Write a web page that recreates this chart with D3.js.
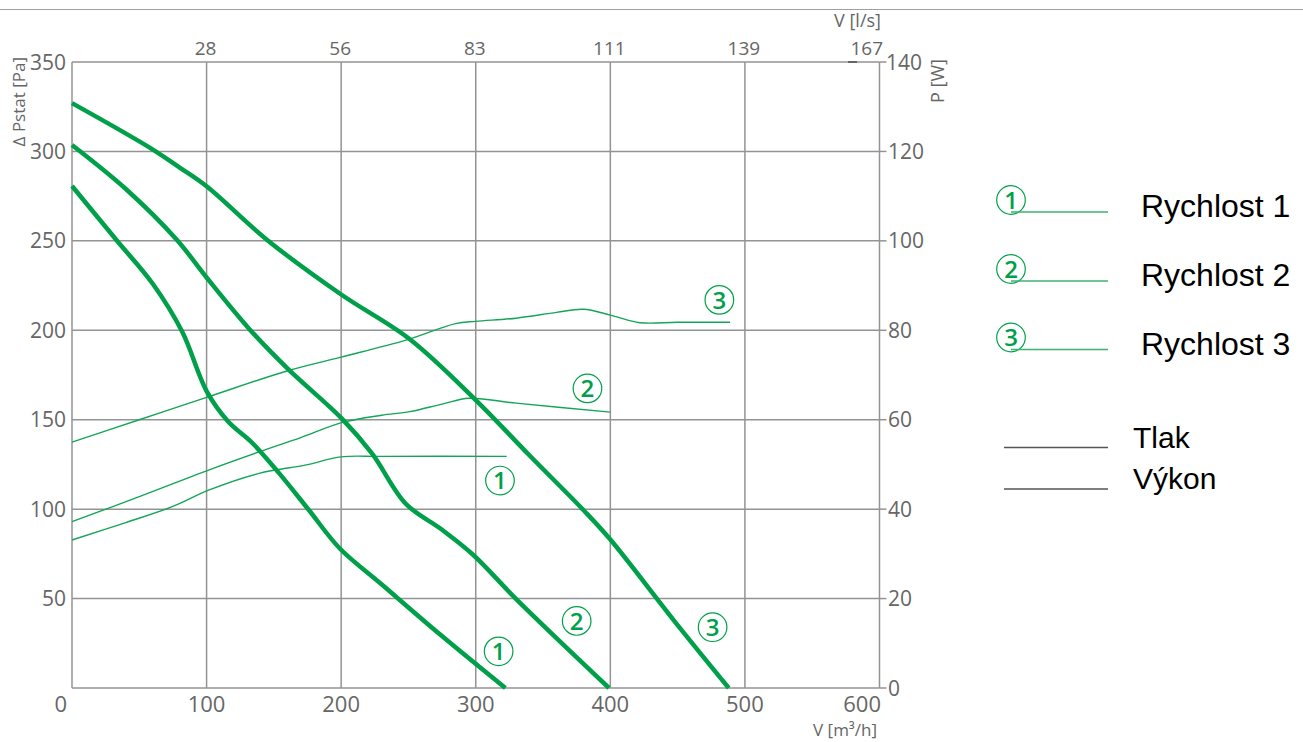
<!DOCTYPE html>
<html><head><meta charset="utf-8">
<script src="https://cdn.jsdelivr.net/npm/d3@7"></script>
<style>
body{margin:0;background:#fff;}
svg{display:block;}
.ax{font-family:"Open Sans",sans-serif;fill:#666;}
.lg{font-family:"Liberation Sans",Arial,sans-serif;fill:#000;}
</style></head>
<body>
<svg id="c" width="1303" height="742"></svg>
<script>
// ---- data ----
const flowTicks = [0,100,200,300,400,500,600];          // V [m3/h]
const flowTopLabels = ["28","56","83","111","139","167"]; // V [l/s]
const pressTicks = [50,100,150,200,250,300,350];          // Pa
const powerTicks = [0,20,40,60,80,100,120,140];           // W

// pressure curves [m3/h, Pa]
const press1 = [[0,280.7],[33,250.5],[60,226],[82,199],[100,166],[116,149],[134,137],[154,120],[176,99.5],[199,78],[230,58],[274,29.6],[322,0]];
const press2 = [[0,303.6],[40,279],[78,250.5],[100,229.5],[132,200.5],[161,178],[200,151],[223,131],[248,103],[274,89],[298,74.5],[331,49],[399,0]];
const press3 = [[0,327],[58,302],[80,291],[100,280.5],[145,250.5],[200,220],[251,195],[300,161],[340,130],[380,99.5],[400,83],[447,38],[488,0]];
// power curves [m3/h, W]
const power1 = [[0,33.1],[40,37],[74,40.5],[102,44.3],[139,48],[174,49.9],[200,51.7],[230,51.8],[323,51.8]];
const power2 = [[0,37.2],[50,42.8],[102,48.8],[139,52.8],[170,56],[201,59.4],[230,61],[251,61.8],[275,63.5],[295,64.8],[330,63.7],[400,61.7]];
const power3 = [[0,55],[50,60],[100,65],[161,71],[200,74],[248,77.8],[285,81.5],[300,82],[330,82.7],[360,84],[380,84.7],[400,83.4],[422,81.7],[450,81.8],[489,81.8]];

const speedNames = ["Rychlost 1","Rychlost 2","Rychlost 3"];
const typeNames = ["Tlak","Výkon"];
// curve number labels: [m3/h, Pa]
const pressLabelPos = [[317,20.5],[375,37.5],[476,34]];
const powerLabelPos = [[318,116],[383,167.5],[481,217]];

// ---- layout ----
const svg = d3.select("#c");
const L=72, R=879.5, T=62, B=688;
const x = d3.scaleLinear().domain([0,600]).range([L,R]);
const y = d3.scaleLinear().domain([0,350]).range([B,T]);
const yW = d3.scaleLinear().domain([0,140]).range([B,T]);
const grid="#939393", green="#00a04a", green2="#14a558";

// top separator line
svg.append("line").attr("x1",0).attr("x2",1303).attr("y1",9.5).attr("y2",9.5).attr("stroke","#a0a0a0").attr("stroke-width",1.2);

// grid
const g = svg.append("g");
g.selectAll(".vg").data(flowTicks).enter().append("line")
 .attr("x1",d=>x(d)).attr("x2",d=>x(d)).attr("y1",T).attr("y2",B)
 .attr("stroke",grid).attr("stroke-width",1.5);
g.selectAll(".hg").data([0].concat(pressTicks)).enter().append("line")
 .attr("x1",L).attr("x2",R).attr("y1",d=>y(d)).attr("y2",d=>y(d))
 .attr("stroke",grid).attr("stroke-width",1.5);
// right ticks
g.selectAll(".rt").data(powerTicks).enter().append("line")
 .attr("x1",R).attr("x2",R+7).attr("y1",d=>yW(d)).attr("y2",d=>yW(d))
 .attr("stroke",grid).attr("stroke-width",1.5);
svg.append("line").attr("x1",848).attr("x2",857).attr("y1",T).attr("y2",T).attr("stroke","#666").attr("stroke-width",2);

// left labels
svg.selectAll(".ly").data(pressTicks).enter().append("text").attr("class","ax")
 .attr("x",66).attr("y",d=>y(d)+7.5).attr("text-anchor","end").attr("font-size",21).text(d=>d);
// right labels
svg.selectAll(".ry").data(powerTicks).enter().append("text").attr("class","ax")
 .attr("x",d=>d===140?886:888).attr("y",d=>yW(d)+7.5).attr("text-anchor","start").attr("font-size",21).text(d=>d);
// bottom labels
svg.selectAll(".bx").data(flowTicks).enter().append("text").attr("class","ax")
 .attr("x",d=>d===0?67:(d===600?881:x(d))).attr("y",712)
 .attr("text-anchor",d=>(d===0||d===600)?"end":"middle").attr("font-size",22).text(d=>d);
// top labels
svg.selectAll(".tx").data(flowTopLabels).enter().append("text").attr("class","ax")
 .attr("x",(d,i)=>i===5?883:x(flowTicks[i+1])-1).attr("y",55)
 .attr("text-anchor",(d,i)=>i===5?"end":"middle").attr("font-size",19).text(d=>d);
// axis titles
svg.append("text").attr("class","ax").attr("font-size",17).attr("text-anchor","end")
 .attr("transform","translate(25,57) rotate(-90)").text("Δ Pstat [Pa]");
svg.append("text").attr("class","ax").attr("font-size",18).attr("text-anchor","end")
 .attr("transform","translate(944,59) rotate(-90)").text("P [W]");
svg.append("text").attr("class","ax").attr("font-size",17).attr("text-anchor","end")
 .attr("x",877).attr("y",736).text("V [m³/h]");
svg.append("text").attr("class","ax").attr("font-size",18).attr("text-anchor","end")
 .attr("x",881).attr("y",27).text("V [l/s]");

// curves
const lineP = d3.line().x(d=>x(d[0])).y(d=>y(d[1])).curve(d3.curveCatmullRom.alpha(0.5));
const lineW = d3.line().x(d=>x(d[0])).y(d=>yW(d[1])).curve(d3.curveCatmullRom.alpha(0.5));
[power1,power2,power3].forEach(p=>{
  svg.append("path").attr("d",lineW(p)).attr("fill","none").attr("stroke",green2).attr("stroke-width",1.4);
});
[press1,press2,press3].forEach(p=>{
  svg.append("path").attr("d",lineP(p)).attr("fill","none").attr("stroke",green).attr("stroke-width",4.5).attr("stroke-linejoin","round");
});

function circNum(cx,cy,n){
  svg.append("circle").attr("cx",cx).attr("cy",cy).attr("r",14.3).attr("fill","none").attr("stroke",green).attr("stroke-width",1.2);
  svg.append("text").attr("x",cx).attr("y",cy+8.7).attr("text-anchor","middle")
   .attr("font-family","'Open Sans',sans-serif").attr("font-weight",600).attr("font-size",24)
   .attr("fill",green).text(n);
}
pressLabelPos.forEach((p,i)=>circNum(x(p[0]),y(p[1]),i+1));
powerLabelPos.forEach((p,i)=>circNum(x(p[0]),y(p[1]),i+1));

// legend
const legY = [200,269,337.5];
speedNames.forEach((s,i)=>{
  circNum(1011,legY[i],i+1);
  svg.append("line").attr("x1",1011).attr("x2",1108).attr("y1",legY[i]+12).attr("y2",legY[i]+12)
   .attr("stroke","#3cb371").attr("stroke-width",1.3);
  svg.append("text").attr("class","lg").attr("x",1141).attr("y",legY[i]+17).attr("font-size",32).text(s);
});
const typeY = [447.5,489];
typeNames.forEach((s,i)=>{
  svg.append("line").attr("x1",1004).attr("x2",1108).attr("y1",typeY[i]).attr("y2",typeY[i])
   .attr("stroke","#555").attr("stroke-width",1.3);
  svg.append("text").attr("class","lg").attr("x",1133).attr("y",typeY[i]).attr("font-size",30).text(s);
});
</script>
</body></html>
